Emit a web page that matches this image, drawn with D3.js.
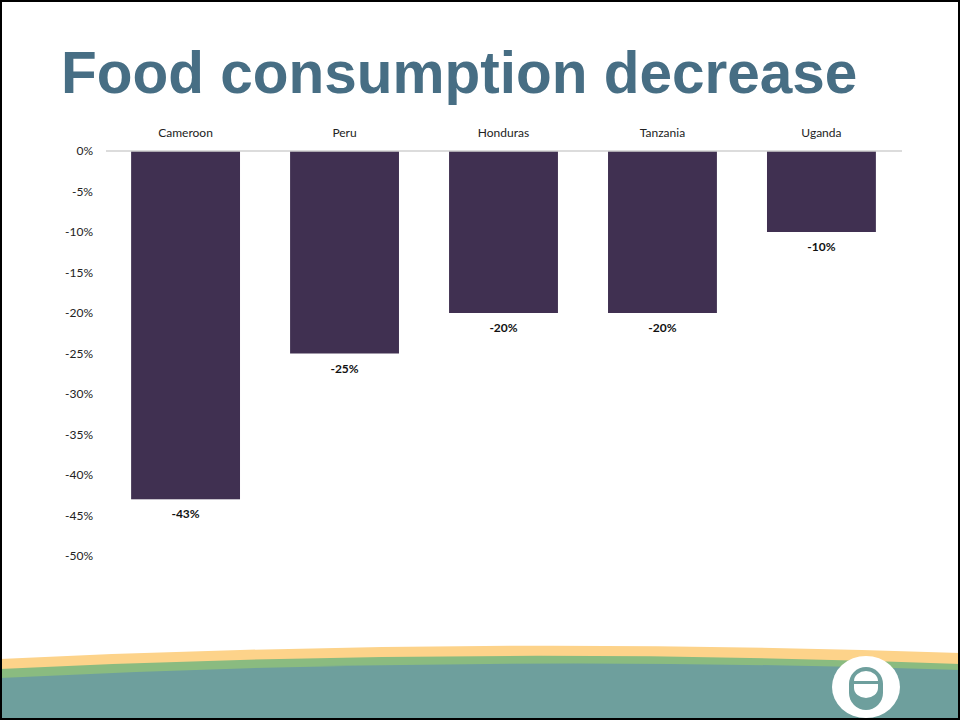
<!DOCTYPE html>
<html><head><meta charset="utf-8">
<script src="https://cdn.jsdelivr.net/npm/d3@7"></script>
<style>body{margin:0;background:#fff}svg{display:block}</style>
</head><body>
<script>
const categories = ["Cameroon","Peru","Honduras","Tanzania","Uganda"];
const values = [-43,-25,-20,-20,-10];
const tickValues = [0,-5,-10,-15,-20,-25,-30,-35,-40,-45,-50];

const W=960,H=720;
const svg=d3.select("body").append("svg").attr("width",W).attr("height",H);
svg.append("rect").attr("x",0).attr("y",0).attr("width",W).attr("height",H).attr("fill","#fff");

// title
svg.append("text").attr("x",61).attr("y",93)
  .attr("font-family","Liberation Sans, Arial, sans-serif").attr("font-weight","bold")
  .attr("font-size",58.5).attr("fill","#476E84").text("Food consumption decrease");

const x=d3.scaleBand().domain(categories).range([106,901]).paddingInner(0.315).paddingOuter(0.158);
const y=d3.scaleLinear().domain([0,-50]).range([151,556]);

const font="Lato, 'Open Sans', sans-serif";
// y axis labels
const yAxis=d3.axisLeft(y).tickValues(tickValues).tickFormat(d=>d+"%").tickSize(0).tickPadding(0);
const ya=svg.append("g").attr("transform","translate(93,0)").call(yAxis);
ya.select(".domain").remove();
ya.selectAll("text").attr("font-family",font).attr("font-size",12).attr("fill","#222");

// bars
svg.selectAll("rect.bar").data(values).enter().append("rect").attr("class","bar")
  .attr("x",(d,i)=>x(categories[i])).attr("width",x.bandwidth())
  .attr("y",y(0)).attr("height",d=>y(d)-y(0)).attr("fill","#403051");

// zero line
svg.append("line").attr("x1",106).attr("x2",902).attr("y1",y(0)).attr("y2",y(0))
  .attr("stroke","#d0d0d0").attr("stroke-width",1.5);

// category labels (top axis)
const xAxis=d3.axisTop(x).tickSize(0).tickPadding(0);
const xa=svg.append("g").attr("transform","translate(0,137)").call(xAxis);
xa.select(".domain").remove();
xa.selectAll("text").attr("font-family",font).attr("font-size",12).attr("fill","#222");

// value labels
svg.selectAll("text.val").data(values).enter().append("text").attr("class","val")
  .attr("x",(d,i)=>x(categories[i])+x.bandwidth()/2).attr("y",d=>y(d)+19)
  .attr("text-anchor","middle").attr("font-family",font).attr("font-weight","bold")
  .attr("font-size",12).attr("fill","#111").text(d=>d+"%");

// bottom decoration
const curve=(yl,ym,yr)=>`M0,${yl} Q480,${ym-(yl+yr)/2+ym} 960,${yr} L960,720 L0,720 Z`;
svg.append("path").attr("d",curve(659,646,653)).attr("fill","#FDD38A");
svg.append("path").attr("d",curve(669,656,664)).attr("fill","#8ABB80");
svg.append("path").attr("d",curve(678,664,670)).attr("fill","#6E9F9D");

// logo
svg.append("ellipse").attr("cx",866).attr("cy",687).attr("rx",34).attr("ry",31).attr("fill","#fff");
svg.append("rect").attr("x",849).attr("y",667).attr("width",34).attr("height",43).attr("rx",17).attr("ry",17).attr("fill","#6E9F9D");
svg.append("path").attr("d","M854,681 A12,10 0 0 1 878,681 Z").attr("fill","#fff");
svg.append("path").attr("d","M854,684 L878,684 L878,688 A12,10 0 0 1 854,688 Z").attr("fill","#fff");

// border
svg.append("rect").attr("x",1).attr("y",1).attr("width",W-2).attr("height",H-2)
  .attr("fill","none").attr("stroke","#000").attr("stroke-width",2);
</script>
</body></html>
